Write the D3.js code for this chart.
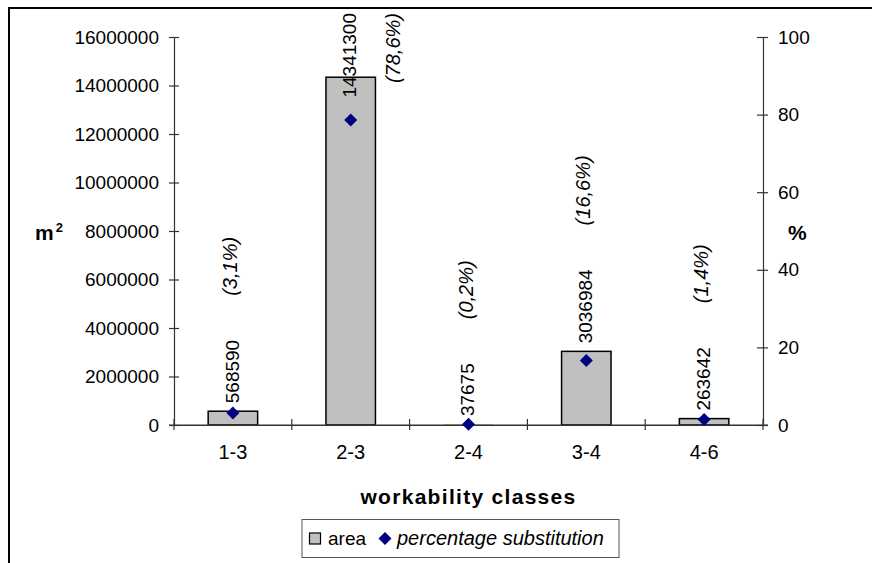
<!DOCTYPE html>
<html><head><meta charset="utf-8">
<script src="https://cdn.jsdelivr.net/npm/d3@7"></script>
<style>
html,body{margin:0;padding:0;background:#fff;}
text{font-family:"Liberation Sans",Arial,sans-serif;fill:#000;}
</style></head>
<body>
<svg id="chart" width="872" height="563"></svg>
<script>
const categories = ["1-3","2-3","2-4","3-4","4-6"];
const areaValues = [568590, 14341300, 37675, 3036984, 263642];
const pctValues = [3.1, 78.6, 0.2, 16.6, 1.4];
const pctLabels = ["(3,1%)","(78,6%)","(0,2%)","(16,6%)","(1,4%)"];
const leftTicks = [0,2000000,4000000,6000000,8000000,10000000,12000000,14000000,16000000];
const rightTicks = [0,20,40,60,80,100];

const svg = d3.select("#chart");
svg.append("rect").attr("width",872).attr("height",563).attr("fill","#fff");
// outer frame
svg.append("rect").attr("x",9).attr("y",8).attr("width",900).attr("height",600)
  .attr("fill","none").attr("stroke","#000").attr("stroke-width",2);

const L = 174, R = 763, T = 37, B = 425;
const frameTop = 8;
const x = d3.scaleBand().domain(categories).range([L,R]).paddingInner(0.58).paddingOuter(0.29);
const xb = d3.scaleBand().domain(categories).range([L,R]);
const yL = d3.scaleLinear().domain([0,16000000]).range([B,T]);
const yR = d3.scaleLinear().domain([0,100]).range([B,T]);

// bars
svg.append("g").selectAll("rect").data(areaValues).join("rect")
  .attr("x",(d,i)=>x(categories[i]))
  .attr("width",x.bandwidth())
  .attr("y",d=>yL(d))
  .attr("height",d=>B-yL(d))
  .attr("fill","#c0c0c0").attr("stroke","#000")
  .attr("stroke-width",d=>(B-yL(d))<2 ? 0 : 1.5);

// axes
const axisColor = "#333";
const gL = svg.append("g").attr("transform",`translate(${L},0)`)
  .call(d3.axisLeft(yL).tickValues(leftTicks).tickSize(5).tickPadding(10).tickFormat(d3.format("d")));
const gR = svg.append("g").attr("transform",`translate(${R},0)`)
  .call(d3.axisRight(yR).tickValues(rightTicks).tickSize(5).tickPadding(10));
const gX = svg.append("g").attr("transform",`translate(0,${B})`)
  .call(d3.axisBottom(xb).tickSize(0).tickPadding(20));
[gL,gR,gX].forEach(g=>{
  g.select(".domain").attr("stroke",axisColor).attr("stroke-width",1.2);
  g.selectAll(".tick line").attr("stroke",axisColor).attr("stroke-width",1.2);
  g.selectAll("text").style("font-size","19px").attr("fill","#000");
});
// cross ticks
gL.selectAll(".tick line").attr("x1",5).attr("x2",-5);
gR.selectAll(".tick line").attr("x1",-6).attr("x2",5);
gX.selectAll("text").style("font-size","20px");
// category boundary ticks on x axis
const bounds = categories.map(c=>xb(c)).concat([R]);
svg.append("g").selectAll("line").data(bounds).join("line")
  .attr("x1",d=>d).attr("x2",d=>d).attr("y1",B-6).attr("y2",B+5)
  .attr("stroke",axisColor).attr("stroke-width",1.2);
svg.append("line").attr("x1",L-5).attr("x2",R+5).attr("y1",B).attr("y2",B)
  .attr("stroke",axisColor).attr("stroke-width",1.2);

// value labels
const valG = svg.append("g");
const valTops = [];
areaValues.forEach((v,i)=>{
  const cx = xb(categories[i]) + xb.bandwidth()/2;
  const t = valG.append("text").style("font-size","19px").attr("text-anchor","start")
    .attr("dy","0.35em").text(v);
  const len = t.node().getComputedTextLength();
  let start = yL(v) - 8;
  if (start - len < frameTop + 5) start = frameTop + 5 + len;
  t.attr("transform",`translate(${cx-1},${start}) rotate(-90)`);
  valTops.push(start - len);
});

// percentage labels
const pctG = svg.append("g");
pctLabels.forEach((s,i)=>{
  const cx = xb(categories[i]) + xb.bandwidth()/2;
  const t = pctG.append("text").style("font-size","20px").style("font-style","italic")
    .attr("text-anchor","start").attr("dy","0.35em").text(s);
  const len = t.node().getComputedTextLength();
  let start = valTops[i] - 44;
  let px = cx - 3;
  if (start - len < frameTop + 5) { start = frameTop + 5 + len; px = cx + 42; }
  t.attr("transform",`translate(${px},${start}) rotate(-90)`);
});

// diamonds
svg.append("g").selectAll("path").data(pctValues).join("path")
  .attr("d","M0,-6.5L6.5,0L0,6.5L-6.5,0Z")
  .attr("transform",(d,i)=>`translate(${xb(categories[i])+xb.bandwidth()/2},${yR(d)})`)
  .attr("fill","#000080");

// axis titles
const m = svg.append("text").attr("x",35).attr("y",240).style("font-size","21px").style("font-weight","bold");
m.append("tspan").text("m");
m.append("tspan").attr("dx",2).attr("dy",-8).style("font-size","13px").text("2");
svg.append("text").attr("x",788).attr("y",240).style("font-size","21px").style("font-weight","bold").text("%");
svg.append("text").attr("x",(L+R)/2).attr("y",504).attr("text-anchor","middle")
  .style("font-size","21px").style("font-weight","bold").style("letter-spacing","1.3px")
  .text("workability classes");

// legend
const lg = svg.append("g");
lg.append("rect").attr("x",302).attr("y",519.5).attr("width",317).attr("height",38)
  .attr("fill","#fff").attr("stroke","#555").attr("stroke-width",1);
lg.append("rect").attr("x",309.5).attr("y",533).attr("width",11).attr("height",11)
  .attr("fill","#c0c0c0").attr("stroke","#000").attr("stroke-width",1.2);
lg.append("text").attr("x",328).attr("y",545).style("font-size","19px").text("area");
lg.append("path").attr("d","M0,-6.5L6.5,0L0,6.5L-6.5,0Z").attr("transform","translate(385,538.5)").attr("fill","#000080");
lg.append("text").attr("x",397).attr("y",545).style("font-size","20px").style("font-style","italic").text("percentage substitution");
</script>
</body></html>
